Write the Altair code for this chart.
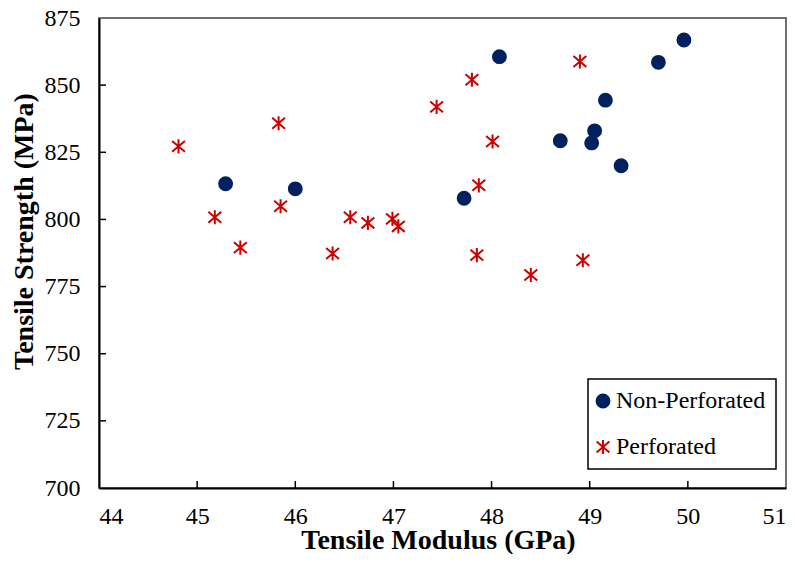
import altair as alt
import pandas as pd

# Non-Perforated samples
np_modulus = [45.29, 46.00, 47.72, 48.08, 48.70, 49.02, 49.05, 49.16, 49.32, 49.70, 49.96]
np_strength = [813.3, 811.4, 807.9, 860.6, 829.3, 828.5, 833.0, 844.4, 820.0, 858.5, 866.8]

# Perforated samples
p_modulus = [44.81, 45.18, 45.44, 45.83, 45.85, 46.38, 46.56, 46.74, 46.99, 47.05,
             47.44, 47.80, 47.87, 48.01, 47.85, 48.40, 48.90, 48.93]
p_strength = [827.2, 800.8, 789.5, 835.8, 804.9, 787.3, 800.8, 798.7, 800.2, 797.4,
              841.9, 852.0, 812.7, 829.0, 786.7, 779.3, 858.8, 784.8]

series_names = ["Non-Perforated", "Perforated"]
x_ticks = [44, 45, 46, 47, 48, 49, 50, 51]
y_ticks = [700, 725, 750, 775, 800, 825, 850, 875]

NAVY = "#002060"
RED = "#CC0000"
FONT = "Liberation Serif"
W, H = 687, 470

df = pd.DataFrame({
    "modulus": np_modulus + p_modulus,
    "strength": np_strength + p_strength,
    "series": [series_names[0]] * len(np_modulus) + [series_names[1]] * len(p_modulus),
})

xscale = alt.Scale(domain=[44, 51], nice=False, zero=False)
yscale = alt.Scale(domain=[700, 875], nice=False, zero=False)

xaxis = alt.Axis(values=x_ticks, title="Tensile Modulus (GPa)", format="d",
                 titleX=339, titleY=60, titleBaseline="alphabetic", titleAlign="center",
                 labelPadding=16)
yaxis = alt.Axis(values=y_ticks, title="Tensile Strength (MPa)", format="d",
                 titleX=-67, titleY=213, titleAngle=270, titleBaseline="alphabetic",
                 titleAlign="center", labelPadding=19)

asterisk = "M-1,-0.85L1,0.85M-1,0.85L1,-0.85M0,-1.1L0,1.1"

points = alt.Chart(df).mark_point(filled=False, strokeWidth=2, opacity=1, size=165).encode(
    x=alt.X("modulus:Q", scale=xscale, axis=xaxis),
    y=alt.Y("strength:Q", scale=yscale, axis=yaxis),
    color=alt.Color("series:N", title=None,
                    scale=alt.Scale(domain=series_names, range=[NAVY, RED])),
    fill=alt.Fill("series:N", title=None,
                  scale=alt.Scale(domain=series_names, range=[NAVY, "transparent"])),
    shape=alt.Shape("series:N", title=None,
                    scale=alt.Scale(domain=series_names, range=["circle", asterisk])),
)

xt = pd.DataFrame({"modulus": x_ticks[1:-1]})
yt = pd.DataFrame({"strength": y_ticks[1:-1]})

xtick_rules = alt.Chart(xt).mark_rule(color="black", strokeWidth=1.5).encode(
    x=alt.X("modulus:Q", scale=xscale, axis=xaxis),
    y=alt.value(H), y2=alt.value(H - 7),
)
ytick_rules = alt.Chart(yt).mark_rule(color="black", strokeWidth=1.5).encode(
    y=alt.Y("strength:Q", scale=yscale, axis=yaxis),
    x=alt.value(0), x2=alt.value(7),
)

chart = alt.layer(points, xtick_rules, ytick_rules).properties(
    width=W, height=H,
    padding={"left": 91, "top": 10, "right": 1, "bottom": 66},
    autosize=alt.AutoSizeParams(type="none"),
).configure_view(
    stroke="#444444", strokeWidth=1.5,
).configure_axis(
    labelFont=FONT, labelFontSize=24, labelColor="black",
    titleFont=FONT, titleFontSize=28, titleFontWeight="bold", titleColor="black",
    domainColor="black", domainWidth=2, ticks=False, grid=False,
).configure_legend(
    orient="none", legendX=489, legendY=361,
    strokeColor="black", strokeWidth=1.5, fillColor="white", padding=10,
    labelFont=FONT, labelFontSize=24, labelColor="black",
    labelOffset=1,
    symbolOffset=-7,
    rowPadding=22, symbolSize=165, symbolStrokeWidth=2, labelLimit=300,
)

chart.save("out.html", embed_options={"renderer": "svg", "actions": False})
